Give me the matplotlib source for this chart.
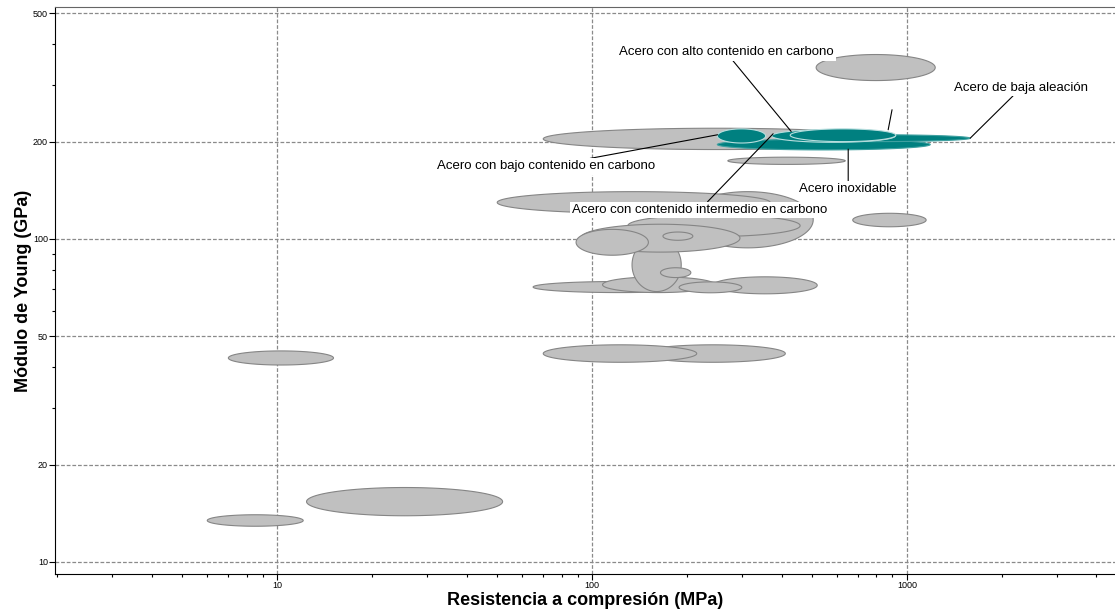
import numpy as np
import matplotlib.pyplot as plt
from matplotlib.ticker import FixedLocator, NullFormatter, FixedFormatter

plt.rcParams['font.family'] = ['Liberation Sans', 'DejaVu Sans']

# rangos de cada material gris (resistencia MPa, modulo GPa)
gris_x_min = [12.4, 6.0, 7.0, 142, 70, 242, 65, 108, 189, 134, 165, 193, 130, 50, 92, 89, 168, 673, 270, 70, 515]
gris_x_max = [52, 12.1, 15.1, 411, 215, 519, 229, 246, 299, 192, 206, 504, 458, 368, 295, 151, 209, 1151, 637, 885, 1230]
gris_y_min = [13.9, 12.9, 40.7, 41.5, 41.5, 67.6, 68.2, 68.2, 68.1, 68.7, 75.9, 93.8, 101.7, 120, 91, 89, 99, 109, 170, 189, 309]
gris_y_max = [17.0, 14.0, 45.0, 47.0, 47.0, 76.3, 73.8, 76.3, 73.6, 100.5, 81.4, 140, 118.7, 140, 111, 107, 105, 120, 179, 220, 372]

# aceros: inoxidable, baja aleacion, bajo C, intermedio C, alto C
acero_x_min = [250, 400, 250, 372, 426]
acero_x_max = [1186, 1589, 356, 918, 922]
acero_y_min = [188.5, 200, 198, 199, 200]
acero_y_max = [203.5, 210, 219, 218, 219]

# etiquetas: texto, punto señalado, posicion del texto
etiquetas = ['Acero con alto contenido en carbono', 'Acero de baja aleación',
             'Acero con bajo contenido en carbono', 'Acero inoxidable',
             'Acero con contenido intermedio en carbono']
punto_x = [429, 1589, 250.6, 651, 376]
punto_y = [215, 205, 210, 189.5, 211.5]
texto_x = [266.6, 2308, 71.6, 651, 219.9]
texto_y = [377.6, 293.6, 167.5, 142.6, 123]

x_major = [10, 100, 1000]
y_major = [10, 20, 50, 100, 200, 500]
y_minor = [30, 40, 60, 70, 80, 90, 300, 400]


def elipse(ax, x0, x1, y0, y1, fc, ec, lw, z):
    t = np.linspace(0, 2 * np.pi, 300)
    cx = (np.log10(x0) + np.log10(x1)) / 2
    rx = (np.log10(x1) - np.log10(x0)) / 2
    cy = (np.log10(y0) + np.log10(y1)) / 2
    ry = (np.log10(y1) - np.log10(y0)) / 2
    ax.fill(10 ** (cx + rx * np.cos(t)), 10 ** (cy + ry * np.sin(t)),
            fc=fc, ec=ec, lw=lw, zorder=z)


fig = plt.figure(figsize=(11.15, 6.15), dpi=100)
ax = fig.add_axes([0.0493, 0.0672, 0.9507, 0.921])
ax.set_xscale('log')
ax.set_yscale('log')
ax.set_xlim(1.97, 4580)
ax.set_ylim(9.2, 521)

for i in range(len(gris_x_min)):
    elipse(ax, gris_x_min[i], gris_x_max[i], gris_y_min[i], gris_y_max[i],
           '#c0c0c0', '#858585', 0.8, 2)

for i in range(len(acero_x_min)):
    borde = '#3fa0a0' if i < 2 else '#b8dede'
    elipse(ax, acero_x_min[i], acero_x_max[i], acero_y_min[i], acero_y_max[i],
           '#008080', borde, 0.8, 3)

for txt, px, py, tx, ty in zip(etiquetas, punto_x, punto_y, texto_x, texto_y):
    ax.annotate(txt, xy=(px, py), xytext=(tx, ty), fontsize=9.5, ha='center', va='center',
                bbox=dict(fc='white', ec='none', pad=1.5),
                arrowprops=dict(arrowstyle='-', color='black', lw=0.8, shrinkA=0, shrinkB=0),
                zorder=5)
# linea guia sin texto
ax.annotate('', xy=(872, 217.6), xytext=(897, 251),
            arrowprops=dict(arrowstyle='-', color='black', lw=0.8, shrinkA=0, shrinkB=0), zorder=5)

ax.xaxis.set_major_locator(FixedLocator(x_major))
ax.xaxis.set_major_formatter(FixedFormatter([str(v) for v in x_major]))
ax.xaxis.set_minor_formatter(NullFormatter())
ax.yaxis.set_major_locator(FixedLocator(y_major))
ax.yaxis.set_major_formatter(FixedFormatter([str(v) for v in y_major]))
ax.yaxis.set_minor_locator(FixedLocator(y_minor))
ax.yaxis.set_minor_formatter(NullFormatter())
ax.tick_params(which='major', direction='out', length=4, width=0.8, labelsize=6.5, pad=1)
ax.tick_params(which='minor', direction='out', length=2.5, width=0.8)

ax.grid(True, which='major', color='#8a8a8a', lw=0.9, linestyle=(0, (3, 1.5)), zorder=1)
ax.set_axisbelow(True)
ax.spines['right'].set_visible(False)
ax.spines['top'].set_color('#666666')

ax.set_xlabel('Resistencia a compresión (MPa)', fontsize=13, fontweight='bold', labelpad=2)
ax.set_ylabel('Módulo de Young (GPa)', fontsize=13, fontweight='bold', labelpad=1)

plt.savefig('out.png', dpi=100)
